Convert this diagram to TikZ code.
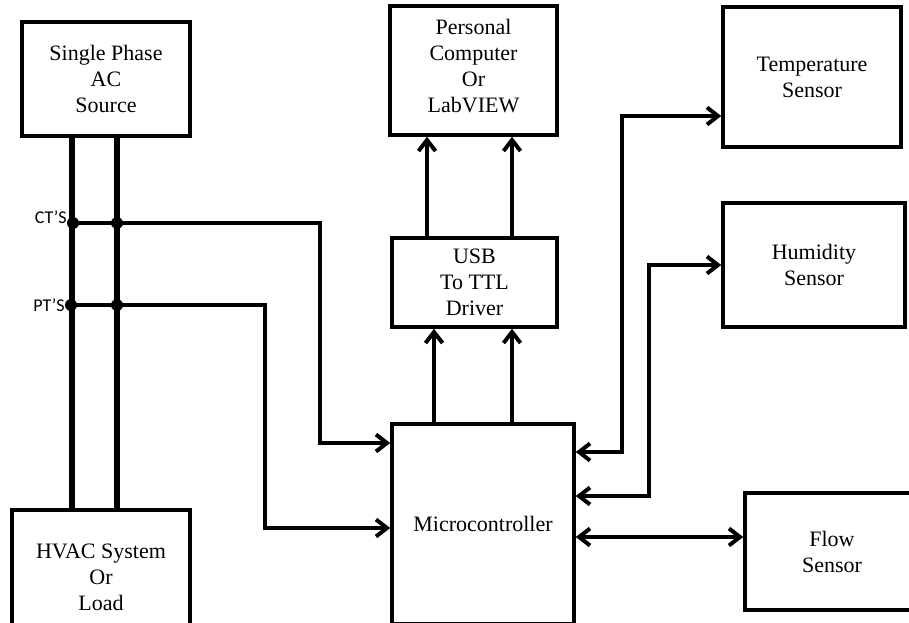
\documentclass[tikz,border=0pt]{standalone}
\usepackage{fontspec}
\setmainfont{Liberation Serif}
\newfontfamily\tapfont{Carlito}
\usetikzlibrary{arrows.meta}
\begin{document}
\begin{tikzpicture}[x=1pt, y=-1pt,
        block/.style={draw, line width=3.5pt, align=center, inner sep=0pt,
            font=\fontsize{22}{26}\selectfont},
        wire/.style={line width=4pt},
        feed/.style={wire, -{Straight Barb[length=11pt,width=17pt]}},
        twoway/.style={wire, {Straight Barb[length=11pt,width=17pt]}-{Straight Barb[length=11pt,width=17pt]}},
        tap/.style={circle, fill, inner sep=0pt, minimum size=12pt},
        taplabel/.style={font=\tapfont\fontsize{18}{20}\selectfont, inner sep=0pt}]
        \useasboundingbox (0,0) rectangle (909,622);
        % blocks
        \node [block, minimum width=168pt, minimum height=114pt] (src) at (106, 79) {Single Phase\\AC\\Source};
        \node [block, minimum width=178pt, minimum height=134pt] (hvac) at (101, 577) {HVAC System\\Or\\Load};
        \node [block, minimum width=167pt, minimum height=129pt] (pc) at (473.5, 70.5) {Personal\\Computer\\Or\\LabVIEW\\[-16pt]};
        \node [block, minimum width=165pt, minimum height=89pt] (usb) at (474.5, 282.5) {USB\\To TTL\\Driver};
        \node [block, minimum width=182pt, minimum height=200pt] (mcu) at (483, 524) {Microcontroller};
        \node [block, minimum width=178pt, minimum height=140pt] (tmp) at (812, 77) {Temperature\\Sensor};
        \node [block, minimum width=182pt, minimum height=124pt] (hum) at (814, 265) {Humidity\\Sensor};
        \node [block, minimum width=174pt, minimum height=117pt] (flow) at (832, 551.5) {Flow\\Sensor};
        % supply lines
        \path [line width=6pt] (src.south -| 72, 0) edge (hvac.north -| 72, 0);
        \path [line width=6pt] (src.south -| 117, 0) edge (hvac.north -| 117, 0);
        % CT and PT taps
        \node [tap] (ct1) at (73, 223) {};
        \node [tap] (ct2) at (117, 223) {};
        \node [tap] (pt1) at (71, 305) {};
        \node [tap] (pt2) at (117, 305) {};
        \node [taplabel, anchor=base east] (ctl) at (ct1.west) {CT’S};
        \node [taplabel, anchor=east] (ptl) at (pt1.west) {PT’S};
        \draw [feed] (ct1.center) -- (320, 223) -- (320, 443) -- (mcu.west |- 0, 443);
        \draw [feed] (pt1.center) -- (265, 305) -- (265, 528) -- (mcu.west |- 0, 528);
        % microcontroller to pc
        \draw [feed] (mcu.north -| 434, 0) -- (usb.south -| 434, 0);
        \draw [feed] (mcu.north -| 512, 0) -- (usb.south -| 512, 0);
        \draw [feed] (usb.north -| 427, 0) -- (pc.south -| 427, 0);
        \draw [feed] (usb.north -| 512, 0) -- (pc.south -| 512, 0);
        % sensors
        \draw [twoway] (mcu.east |- 0, 452) -- (622, 452) -- (622, 116) -- (tmp.west |- 0, 116);
        \draw [twoway] (mcu.east |- 0, 496) -- (649, 496) -- (649, 265) -- (hum.west |- 0, 265);
        \draw [twoway] (mcu.east |- 0, 537) -- (flow.west |- 0, 537);
    \end{tikzpicture}
\end{document}
